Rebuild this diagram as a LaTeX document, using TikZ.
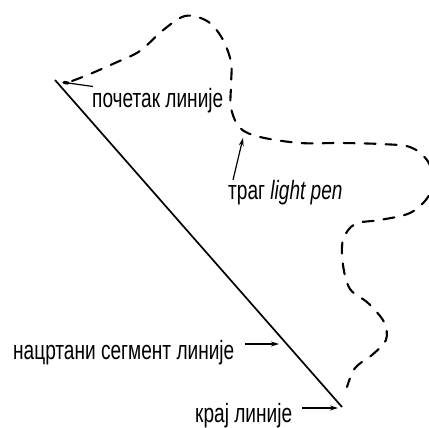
\documentclass[tikz,border=0pt]{standalone}
\usepackage{fontspec}
\setmainfont[FakeStretch=0.72]{Liberation Sans}
\usetikzlibrary{arrows.meta}
\begin{document}
\begin{tikzpicture}[x=1pt,y=-1pt,
  lbl/.style={inner sep=0pt,anchor=base west,font=\fontsize{26.5}{28}\selectfont},
  trace/.style={line width=2.1pt,dash pattern=on 11pt off 10pt,line cap=round},
  seg/.style={line width=1.7pt},
  pointer/.style={line width=1.2pt,-{Stealth[length=8pt,width=5pt]}},
  leader/.style={line width=1.2pt}]
\useasboundingbox (0,0) rectangle (429,428);

% drawn line segment
\coordinate (lineA) at (55,80);
\coordinate (lineB) at (342,407);
\draw[seg] (lineA) -- (lineB);

% light pen trace
\coordinate (penstart) at (68,83);
\draw[trace] plot[smooth,tension=0.55] coordinates {
 (72,81) (90,74) (115,63) (140,51) (162,31) (185,16) (207,21) (222,38)
 (231,62) (231,85) (231,108) (240,128) (260,137) (300,143) (340,143)
 (380,144) (410,147) (427,160) (433,178) (428,197) (410,213) (380,220)
 (355,224) (343,240) (343,265) (350,289) (368,303) (384,322) (386,340)
 (372,355) (355,368) (347,387)};
\draw[line width=3.2pt,line cap=round] (64,82.5) -- (penstart);

% labels
\node[lbl] (start) at (92,108) {почетак линије};
\node[lbl] (trace) at (228,200) {траг \textit{light pen}};
\node[lbl] (segment) at (13,359) {нацртани сегмент линије};
\node[lbl] (finish) at (195,422) {крај линије};

% pointers
\coordinate (startlead) at (93,86.5);
\draw[leader] (penstart) -- (startlead);
\coordinate (traceTail) at (233,180);
\coordinate (traceTip) at (243,138);
\draw[pointer] (traceTail) -- (traceTip);
\coordinate (segTail) at (245,344);
\coordinate (segTip) at (279,344);
\draw[pointer] (segTail) -- (segTip);
\coordinate (finTail) at (302,408);
\coordinate (finTip) at (338,408);
\draw[pointer] (finTail) -- (finTip);
\end{tikzpicture}
\end{document}
